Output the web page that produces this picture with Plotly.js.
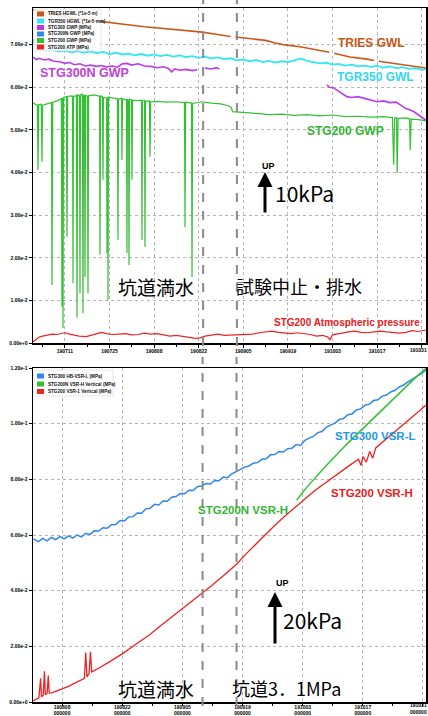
<!DOCTYPE html>
<html><head><meta charset="utf-8">
<script src="https://cdn.plot.ly/plotly-3.0.1.min.js"></script>
<style>html,body{margin:0;padding:0;background:#fff}#chart{width:428px;height:716px}</style>
</head><body><div id="chart"></div>
<script>
// ===== Top panel: x = days since 2019-07-01, y = kPa (plotted as MPa) =====
const triesDays = [0,4,8.5,14,21,26,30.4,35,39.9,46,52.4,57,62,62.6,63.5,68,73,76,78.5,83.8,89,93,93.7,94.5,99.5,104.8,107,107.7,108.5,112,115.2,119,123.7];
const triesKPa  = [78.2,77.5,76.8,76.1,75.4,74.9,74.6,74.2,73.9,73.5,73.0,72.5,71.9,null,71.8,71.4,71.0,70.4,70.0,69.5,68.8,68.2,null,68.0,67.1,66.6,66.3,null,66.1,65.7,65.4,64.9,64.5];

const tgrDays = [0,1,2,4,6,8,10,12,14,16,18,20,22,24,26,28,30,32,34,36,38,40,42,44,46,48,50,52,54,56,58,60,62,64,66,68,70,72,74,76,78,80,82,84,86,88,90,92,94,96,98,100,102,104,106,108,110,112,114,116,118,120,122,123.7];
const tgrKPa  = [71.2,69.8,69.1,68.7,68.9,68.4,68.6,68.2,68.5,68.1,68.4,68.0,68.3,67.8,68.1,67.7,67.9,67.5,67.8,67.4,67.7,67.3,67.6,67.2,67.5,67.1,67.3,66.9,67.2,66.8,67.0,66.6,66.8,66.3,66.5,66.1,66.4,65.9,66.2,65.8,66.1,65.9,66.3,66.7,66.2,65.9,65.6,65.8,65.3,65.5,65.1,65.3,64.9,65.1,64.8,65.0,64.6,64.9,64.5,64.7,64.3,64.5,64.1,64.2];

const stg300Days = [0,1,2,3.5,5,6.5,8.5,10,11.5,13,14.7,16.5,18,20,21.5,23,25,26.5,28,29.5,31,33,35,37,39,41,42.5,43.5,44.5,46,48,50,51.5,52.5,54,56,57.5,58.5,59.5,92.3,93,94.2,95.5,97,98.5,100,102,104,106,108,110,112,114,116,117,118,119.5,121,122.5,123.7];
const stg300KPa  = [67.1,66.5,66.8,66.4,66.6,66.1,66.0,65.6,65.8,65.3,65.5,65.0,65.2,64.9,65.1,64.8,65.0,64.7,65.5,65.6,65.2,65.5,65.0,64.9,64.6,64.8,64.4,63.6,64.3,64.0,64.2,63.9,64.1,null,64.5,64.3,64.6,64.3,null,60.6,60.0,59.9,59.2,58.6,57.8,57.6,57.8,57.4,57.0,56.6,56.8,56.4,56.5,55.6,55.0,54.8,54.3,53.5,52.8,52.1];

const stg200Days = [0,0.8,1.4,1.57,1.8,2.6,2.82,3.0,4.5,5.8,5.96,6.2,7.5,8.9,9.1,9.25,9.35,9.42,9.6,10.5,10.67,10.9,12.4,12.56,12.7,13.6,13.81,14.0,14.6,14.75,14.9,15.5,15.69,15.85,16.15,16.32,16.5,17.1,17.26,17.45,19.0,20.9,21.03,21.2,21.8,21.97,22.1,23.1,23.23,23.35,23.45,23.54,23.7,25.0,26.5,26.68,26.85,27.8,27.93,28.1,29.35,29.5,29.65,30.0,30.13,30.3,30.9,31.07,31.25,33.0,34.05,34.21,34.35,35.0,35.15,35.3,36.55,36.72,36.9,39.0,42.0,45.0,47.55,47.71,47.9,49.75,49.91,50.1,53.0,56.0,59.0,61.5,62.3,62.6,65.0,68.0,71.0,74.0,78.0,82.0,86.0,90.0,94.0,98.0,102.0,106.0,110.0,112.8,113.2,113.5,114.1,114.3,114.6,117.0,118.2,118.4,118.7,121.0,123.6];
const stg200KPa  = [56.3,56.0,55.8,40.6,55.9,56.0,42.5,55.8,56.2,56.4,13.6,56.5,56.8,57.3,8.5,57.5,57.2,3.5,57.6,57.8,24.9,57.9,58.0,14.1,57.8,58.1,5.9,58.3,58.0,11.7,58.2,58.4,7.0,58.2,58.0,15.5,58.1,57.9,11.7,58.0,58.2,57.9,20.7,58.0,57.8,38.3,57.6,57.5,21.1,57.4,57.6,10.1,57.7,57.5,57.3,24.2,57.2,57.4,43.0,57.3,57.0,21.1,57.1,57.0,18.3,57.2,57.1,38.3,57.0,56.9,57.0,24.2,56.8,56.9,22.5,56.7,56.8,43.7,56.6,56.7,56.5,56.6,56.4,27.2,56.5,56.3,15.5,56.2,56.6,56.3,56.1,55.6,55.2,54.3,54.2,54.0,53.8,53.6,53.7,53.4,53.6,53.3,53.5,53.1,53.2,53.0,53.1,52.9,41.8,52.8,52.9,39.9,52.7,52.8,52.6,45.3,52.5,52.4,52.1];

const atpDays = [0,1,2,3,4.5,6,7.5,9,10,11.5,13,14.5,16.7,18,20,21.5,23,25,27,29,31,33,35,37,39,41,43,45,47,49,51,52.5,54,56,58,60,62.8,65,67,69,71,73,75,77,79,81,83,85,87,89,91,92.5,93.2,94,95,97,99,101,103,105,107,109,111,113,115,117,119,121,123.7];
const atpKPa  = [0.3,0.9,1.4,1.6,1.9,2.1,2.0,2.3,2.4,2.1,1.9,1.6,1.5,1.8,2.3,2.5,2.2,2.0,2.1,2.2,1.9,2.0,2.3,2.1,2.2,1.9,1.6,1.8,1.5,1.3,1.1,1.2,1.6,1.9,2.1,1.8,1.9,2.0,2.2,2.1,2.4,2.6,2.8,2.5,2.3,2.2,2.4,2.2,2.0,1.6,1.8,1.4,0.8,1.9,2.0,2.3,2.6,2.8,2.5,2.4,2.6,2.8,2.6,2.4,2.3,2.5,2.9,2.7,3.1];

const topTickDays = [10,24,38,52,66,80,94,108,122];
const topTickText = ["190711","190725","190808","190822","190905","190919","191003","191017","191031"];
const topYTicks = [0,0.01,0.02,0.03,0.04,0.05,0.06,0.07];
const topYText  = ["0.00e+0","1.00e-2","2.00e-2","3.00e-2","4.00e-2","5.00e-2","6.00e-2","7.00e-2"];
const topEventDays = [53.4,64.0];

// ===== Bottom panel: x = days since 2019-08-01, y = kPa (plotted as MPa) =====
const vsrLDays = [0.3,1.5,2.5,3.5,4.5,5.5,6.5,7.5,8.5,9.5,10.5,11.5,12.5,13.5,14.5,15.5,16.5,17.5,18.5,19.5,20.5,21.5,22.5,23.5,24.5,25.5,26.5,27.5,28.5,29.5,30.5,31.5,32.5,33.5,34.5,35.5,36.5,37.5,38.5,39.5,40.5,41.5,42.5,43.5,44.5,45.5,46.5,47.5,48.5,49.5,50.5,51.5,52.5,53.5,54.5,55.5,56.5,57.5,58.5,59.5,60.5,61.5,62.5,63.5,64.5,65.5,66.5,67.5,68.5,69.5,70.5,71.5,72.5,73.5,74.5,75.5,76.5,77.5,78.5,79.5,80.5,81.5,82.5,83.5,84.5,85.5,86.5,87.5,88.5,89.5,90.5,91.7];
const vsrLKPa  = [58.6,57.6,58.8,57.9,59.1,58.3,59.4,58.6,59.7,58.9,60.0,59.3,60.6,60.2,61.5,61.4,62.6,62.4,63.7,63.8,65.2,65.0,66.5,66.6,67.9,67.8,69.4,69.6,71.0,70.8,72.2,72.1,73.6,73.8,74.9,74.8,76.1,76.0,77.4,77.6,78.5,78.3,79.6,79.5,80.8,80.6,82.0,82.9,83.6,84.4,84.8,85.8,86.0,87.2,87.4,88.8,88.9,90.0,89.8,91.0,91.2,92.5,92.2,94.0,94.8,95.4,96.8,97.2,98.8,99.4,100.2,101.5,101.8,103.2,103.5,104.9,105.3,106.6,107.0,108.3,108.6,109.9,110.3,111.4,112.0,113.2,113.9,115.0,115.9,116.8,117.9,119.3];

const vsrHNDays = [61.6,62.5,63.5,64.5,65.5,66.5,67.5,68.5,69.5,70.5,71.5,72.5,73.5,74.5,75.5,76.5,77.5,78.5,79.5,80.5,81.5,82.5,83.5,84.5,85.5,86.5,87.5,88.5,89.5,90.5,91.7];
const vsrHNKPa  = [72.5,74.4,76.3,78.1,79.9,81.6,83.3,85.0,86.6,88.3,89.8,91.4,93.0,94.5,96.1,97.6,99.2,100.7,102.1,103.7,105.2,106.7,108.2,109.7,111.2,112.7,114.1,115.6,116.9,118.3,119.9];

const vsrHDays = [0.3,1.0,1.6,2.0,2.2,2.6,2.9,3.1,3.5,3.8,4.0,4.6,5.5,6.3,7.5,8.5,9.5,10.5,11.5,12.2,12.5,12.8,13.3,13.6,13.9,14.5,15.6,18,21,24,27.3,30,33,36,39.7,42,45,47.6,50,53,56,59,61.6,64,66,68.1,70,72,74,76,76.6,77,77.8,78.6,79.3,80,82,84,86,88,90,91.7];
const vsrHKPa  = [0.4,0.9,1.5,8.5,2.0,2.3,11.0,2.6,3.0,9.5,3.2,3.3,3.8,4.3,5.0,5.6,6.4,7.2,8.0,8.5,17.8,9.0,10.4,18.0,10.8,11.4,12.2,14.4,17.3,20.6,24.1,27.5,31.1,34.8,39.0,42.0,46.0,49.5,53.5,58.2,62.7,67.0,70.6,73.6,76.2,78.6,80.8,83.0,85.1,87.2,85.0,88.2,86.2,90.0,87.6,91.3,94.0,96.6,99.3,101.8,104.4,106.7];

const botTickDays = [7,21,35,49,63,77,91];
const botTickText = ["190808<br>000000","190822<br>000000","190905<br>000000","190919<br>000000","191003<br>000000","191017<br>000000","191031<br>000000"];
const botYTicks = [0,0.02,0.04,0.06,0.08,0.10,0.12];
const botYText  = ["0.00e+0","2.00e-2","4.00e-2","6.00e-2","8.00e-2","1.00e-1","1.20e-1"];
const botEventDays = [39.7,47.6];

// ===== colours =====
const C = {brown:'#c8581a', cyan:'#2ee8f2', purple:'#b83ce8', blue:'#2f86ec', green:'#33c133', red:'#ee2222'};

const toMPa = a => a.map(v => v === null ? null : v / 1000);
const W = 428, H = 716;
const px = x => x / W, py = y => 1 - y / H;

const traces = [
  {x: atpDays, y: toMPa(atpKPa), xaxis:'x', yaxis:'y', mode:'lines', line:{color:C.red, width:1.2}},
  {x: stg200Days, y: toMPa(stg200KPa), xaxis:'x', yaxis:'y', mode:'lines', line:{color:C.green, width:1.2}},
  {x: stg300Days, y: toMPa(stg300KPa), xaxis:'x', yaxis:'y', mode:'lines', line:{color:C.purple, width:1.6}, connectgaps:false},
  {x: tgrDays, y: toMPa(tgrKPa), xaxis:'x', yaxis:'y', mode:'lines', line:{color:C.cyan, width:1.8}},
  {x: triesDays, y: toMPa(triesKPa), xaxis:'x', yaxis:'y', mode:'lines', line:{color:C.brown, width:1.6}, connectgaps:false},
  {x: vsrLDays, y: toMPa(vsrLKPa), xaxis:'x2', yaxis:'y2', mode:'lines', line:{color:C.blue, width:1.5}},
  {x: vsrHNDays, y: toMPa(vsrHNKPa), xaxis:'x2', yaxis:'y2', mode:'lines', line:{color:C.green, width:1.5}},
  {x: vsrHDays, y: toMPa(vsrHKPa), xaxis:'x2', yaxis:'y2', mode:'lines', line:{color:C.red, width:1.3}}
];
traces.forEach(t => { t.showlegend = false; t.hoverinfo = 'skip'; });

const tickFont = {family:'Liberation Sans, Arial, sans-serif', size:5, color:'#000', weight:'bold'};
const axisCommon = {
  showline:true, linecolor:'#000', linewidth:1.5, mirror:true,
  ticks:'outside', ticklen:3, tickwidth:1, tickcolor:'#000',
  showgrid:true, gridcolor:'#b5b5b5', griddash:'dot', gridwidth:1,
  zeroline:false, tickfont:tickFont, tickmode:'array', fixedrange:true
};
const xDom = [33/W, 426/W];

const shapes = [];
const annotations = [];

// last x tick label of each panel sits at the right page edge: right-anchor it so it stays whole
const topTickShown = topTickText.slice(0, -1).concat([""]);
const botTickShown = botTickText.slice(0, -1).concat([""]);
annotations.push({xref:'paper', yref:'paper', x:1, y:py(346), xanchor:'right', yanchor:'top', borderpad:0, text:topTickText[topTickText.length-1], showarrow:false, font:tickFont});
annotations.push({xref:'paper', yref:'paper', x:1, y:0, xanchor:'right', yanchor:'bottom', borderpad:0, text:botTickText[botTickText.length-1], showarrow:false, font:tickFont});

// dashed event lines
topEventDays.forEach(d => shapes.push({type:'line', xref:'x', yref:'paper', x0:d, x1:d, y0:py(346), y1:py(0), line:{color:'#8a8a8a', width:2, dash:'dash'}}));
botEventDays.forEach(d => shapes.push({type:'line', xref:'x2', yref:'paper', x0:d, x1:d, y0:py(706), y1:py(357), line:{color:'#8a8a8a', width:2, dash:'dash'}}));

// legends (drawn as boxes + labels)
function legend(box, rows, rowYs, sqX) {
  shapes.push({type:'rect', xref:'paper', yref:'paper', x0:px(box[0]), x1:px(box[1]), y0:py(box[3]), y1:py(box[2]), fillcolor:'#fff', line:{width:0.6, color:'#d0d0d0'}, layer:'above', opacity:0.85});
  rows.forEach((r, i) => {
    const yc = rowYs[i];
    shapes.push({type:'rect', xref:'paper', yref:'paper', x0:px(sqX), x1:px(sqX+7), y0:py(yc+2.5), y1:py(yc-2.5), fillcolor:r[1], line:{width:0}, layer:'above'});
    annotations.push({xref:'paper', yref:'paper', x:px(sqX+9), y:py(yc), xanchor:'left', yanchor:'middle', text:r[0], showarrow:false, font:{family:'Liberation Sans, Arial, sans-serif', size:4.6, color:'#111', weight:'bold'}});
  });
}
legend([34,101,9,51], [
  ["TRIES HGWL (*1e-5 m)", C.brown],
  ["TGR350 HGWL (*1e-5 mm)", C.cyan],
  ["STG300 GWP (MPa)", C.purple],
  ["STG200N GWP (MPa)", C.blue],
  ["STG200 GWP (MPa)", C.green],
  ["STG200 ATP (MPa)", C.red]
], [14,21,27.5,34,40.5,47], 37);
legend([34,113,370,396], [
  ["STG300 HB-VSR-L (MPa)", C.blue],
  ["STG200N VSR-H Vertical (MPa)", C.green],
  ["STG200 VSR-1 Vertical (MPa)", C.red]
], [376,384,391.5], 37);

// text labels
function label(text, x, y, size, color, family, bold) {
  annotations.push({xref:'paper', yref:'paper', x:px(x), y:py(y), xanchor:'center', yanchor:'middle', text:text, showarrow:false,
    font:{family:family, size:size, color:color, weight: bold ? 'bold' : 'normal'}});
}
const LAT = 'Liberation Sans, Arial, sans-serif';
const JP = 'Noto Sans CJK JP, sans-serif';
label('TRIES GWL', 371, 43, 12, C.brown, LAT, true);
label('STG300N GWP', 84, 73, 12.5, '#c040e0', LAT, true);
label('TGR350 GWL', 375, 77, 12, '#30d8f0', LAT, true);
label('STG200 GWP', 345, 131, 12, '#33b533', LAT, true);
label('UP', 268, 166, 9, '#000', LAT, true);
label('10kPa', 304, 193, 21, '#000', JP, false);
label('坑道満水', 156, 286, 19, '#000', JP, false);
label('試験中止・排水', 299, 286, 18, '#000', JP, false);
label('STG200 Atmospheric pressure', 347, 322, 10, '#e82020', LAT, true);

label('STG300 VSR-L', 375, 436, 11.5, '#1e98e8', LAT, true);
label('STG200N VSR-H', 243, 510, 11.5, '#33b533', LAT, true);
label('STG200 VSR-H', 372, 493, 11.5, '#e82020', LAT, true);
label('UP', 282, 583, 9, '#000', LAT, true);
label('20kPa', 312, 620, 21, '#000', JP, false);
label('坑道満水', 156, 688, 19, '#000', JP, false);
label('坑道3．1MPa', 286, 688, 18, '#000', JP, false);

// scale arrows
[[265,172,214],[275,592,645]].forEach(a => {
  annotations.push({xref:'paper', yref:'paper', x:px(a[0]), y:py(a[1]), ax:0, ay:a[2]-a[1], axref:'pixel', ayref:'pixel',
    text:'', showarrow:true, arrowhead:2, arrowsize:1, arrowwidth:3, arrowcolor:'#000'});
});

const layout = {
  width:W, height:H, margin:{l:0,r:0,t:0,b:0},
  paper_bgcolor:'#fff', plot_bgcolor:'#fff', showlegend:false,
  xaxis: Object.assign({}, axisCommon, {domain:xDom, anchor:'y', range:[0,123.35], tickvals:topTickDays, ticktext:topTickShown,
    ticklabelstandoff:-1,
    minor:{tick0:3, dtick:14, ticks:'outside', ticklen:2, tickcolor:'#000', showgrid:false}}),
  yaxis: Object.assign({}, axisCommon, {domain:[py(343), py(8)], anchor:'x', range:[0,0.0786], tickvals:topYTicks, ticktext:topYText}),
  xaxis2: Object.assign({}, axisCommon, {domain:xDom, anchor:'y2', range:[0.23,91.7], tickvals:botTickDays, ticktext:botTickShown,
    ticklen:2, ticklabelstandoff:-3,
    minor:{tick0:0, dtick:14, ticks:'outside', ticklen:2, tickcolor:'#000', showgrid:false}}),
  yaxis2: Object.assign({}, axisCommon, {domain:[py(702), py(368)], anchor:'x2', range:[0,0.12], tickvals:botYTicks, ticktext:botYText}),
  shapes: shapes,
  annotations: annotations
};

Plotly.newPlot('chart', traces, layout, {staticPlot:true, displayModeBar:false});
</script>
</body></html>
